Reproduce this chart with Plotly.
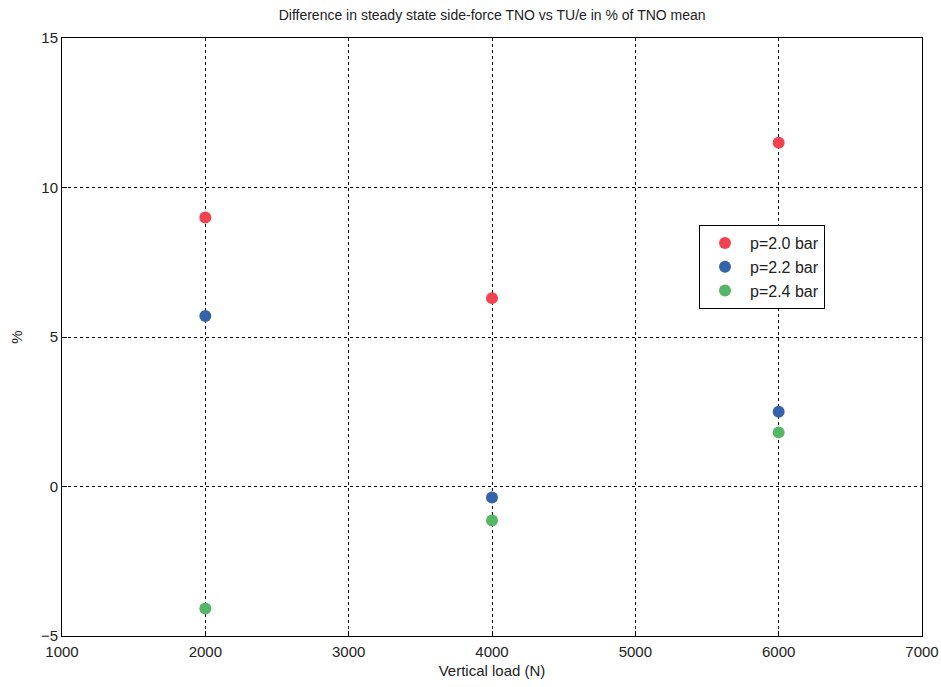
import plotly.graph_objects as go

loads = [2000, 4000, 6000]
p20 = [9.0, 6.3, 11.5]
p22 = [5.7, -0.37, 2.5]
p24 = [-4.08, -1.14, 1.81]
names = ["p=2.0 bar", "p=2.2 bar", "p=2.4 bar"]
colors = ["#f2414f", "#3563a9", "#55b665"]

fig = go.Figure()
for vals, nm, c in zip([p20, p22, p24], names, colors):
    fig.add_trace(go.Scatter(x=loads, y=vals, mode="markers", name=nm,
                             marker=dict(color=c, size=12, line=dict(width=0))))

font = "Liberation Sans, Arial, sans-serif"
axis_common = dict(showline=True, linecolor="black", linewidth=1, mirror=True,
                   ticks="inside", ticklen=5, tickcolor="black", automargin=False,
                   showgrid=True, gridcolor="black", griddash="dot", gridwidth=1,
                   zeroline=False, tickfont=dict(family=font, size=15, color="#222"))
fig.update_layout(
    width=941, height=687,
    margin=dict(l=62, r=19, t=38, b=51),
    paper_bgcolor="white", plot_bgcolor="white",
    title=dict(text="Difference in steady state side-force TNO vs TU/e in % of TNO mean",
               x=0.523, xanchor="center", y=1 - 15/687, yanchor="middle", yref="container",
               font=dict(family=font, size=14, color="#222")),
    xaxis=dict(range=[1000, 7000], tickvals=[1000, 2000, 3000, 4000, 5000, 6000, 7000],
               ticklabelstandoff=2,
               title=dict(text="Vertical load (N)", standoff=6, font=dict(family=font, size=15, color="#222")),
               **axis_common),
    yaxis=dict(range=[-5, 15], tickvals=[-5, 0, 5, 10, 15],
               title=dict(text="%", standoff=14, font=dict(family=font, size=15, color="#222")),
               **axis_common),
    legend=dict(x=(699 - 62) / 860, y=(636 - 225) / 598, xanchor="left", yanchor="top",
                bgcolor="white", bordercolor="black", borderwidth=1,
                font=dict(family=font, size=16, color="#222"),
                tracegroupgap=0, itemwidth=40, indentation=0),
    showlegend=True,
)
fig.write_html("out.html")
